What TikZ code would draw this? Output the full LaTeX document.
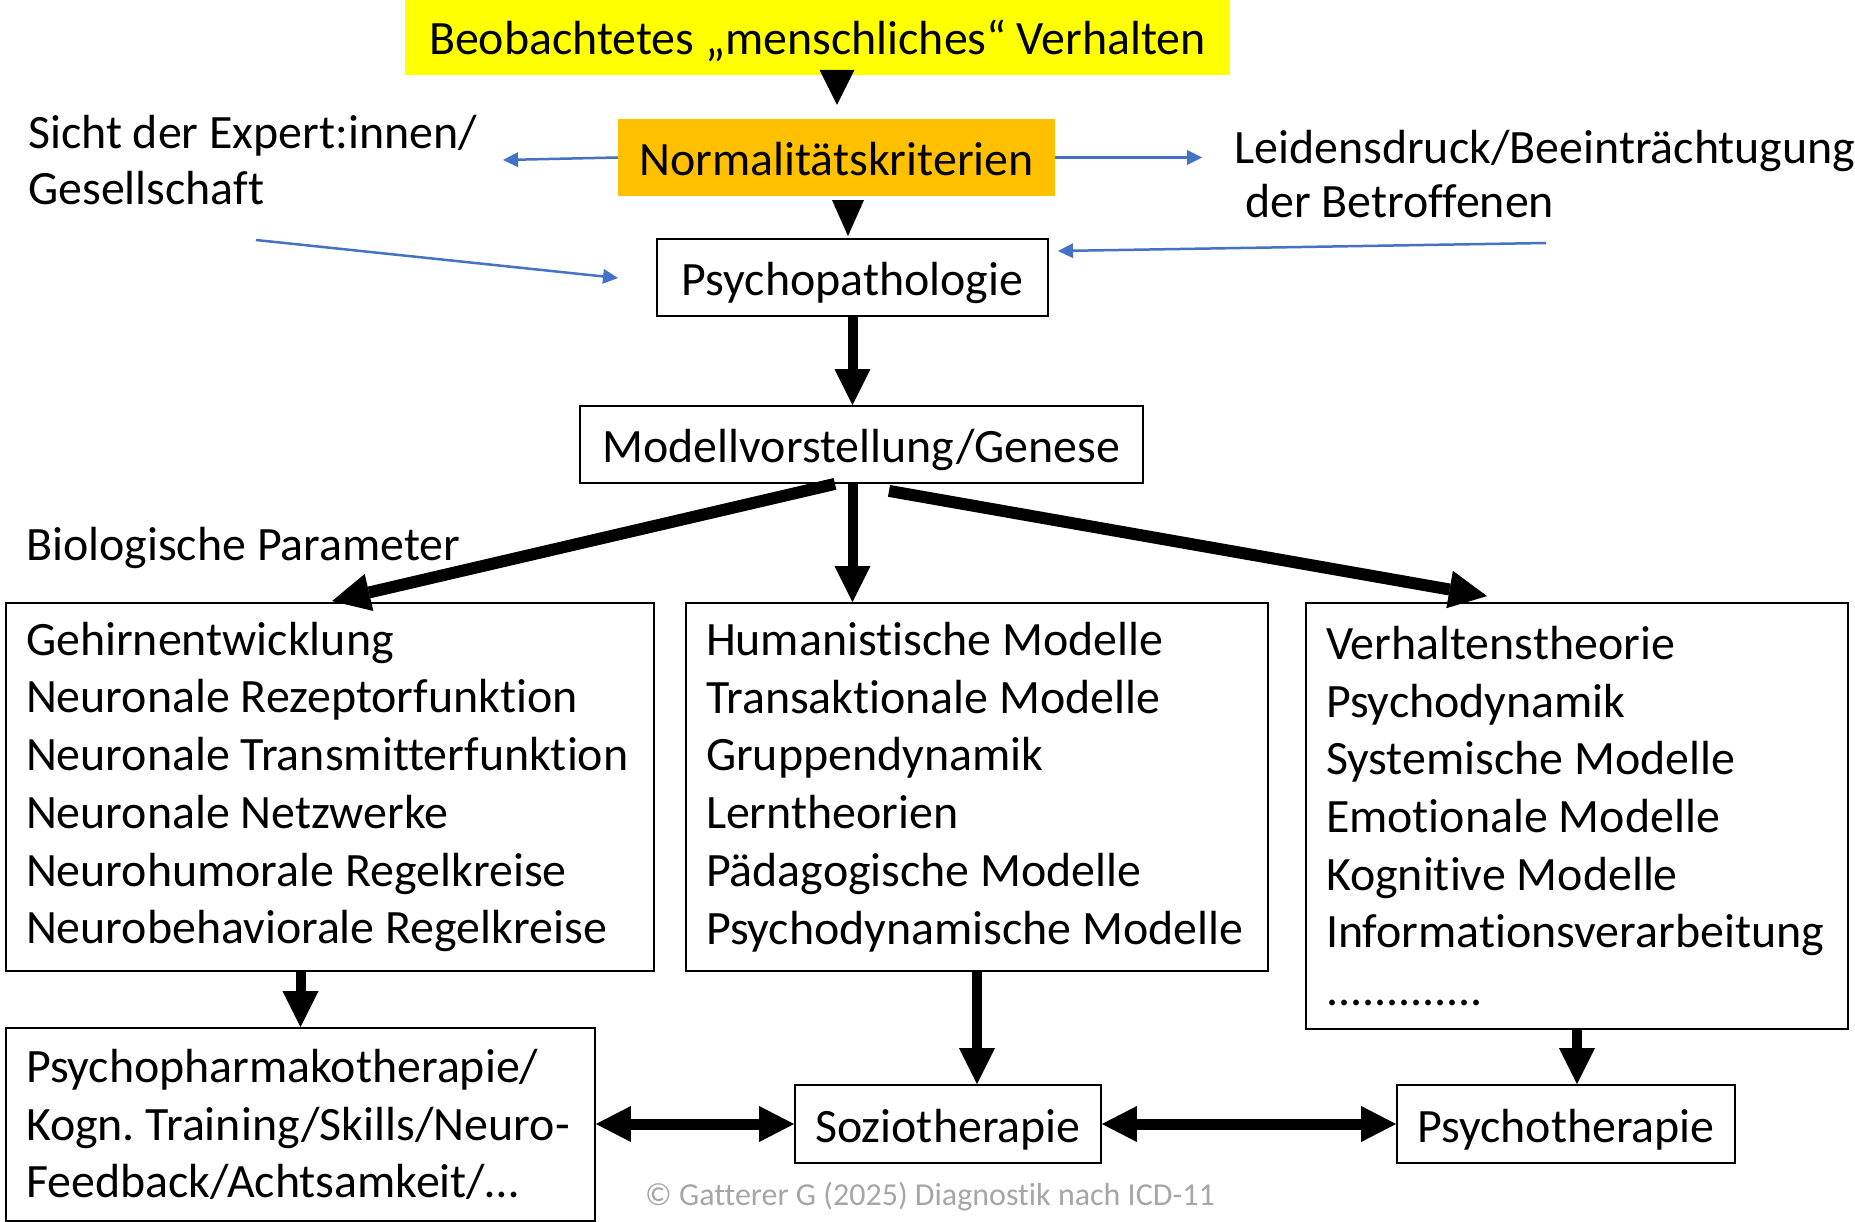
\documentclass[tikz,border=0pt]{standalone}
\usepackage{fontspec}
\setmainfont{Carlito}[Ligatures=NoCommon]
\usetikzlibrary{arrows.meta,calc}
\definecolor{ylw}{RGB}{255,255,0}
\definecolor{org}{RGB}{255,192,0}
\definecolor{blu}{RGB}{68,114,196}
\definecolor{cpr}{RGB}{166,166,166}
\begin{document}
\frenchspacing
\begin{tikzpicture}[x=1pt,y=-1pt,
  every node/.style={font=\fontsize{47.9}{57.7}\selectfont, inner sep=0pt},
  oneline/.style={text height=45pt, text depth=9pt},
  sbox/.style 2 args={draw, line width=1.8pt, oneline, minimum width=#1, minimum height=#2},
  lbox/.style 2 args={draw, line width=1.8pt, align=flush left, text width=#1, inner xsep=20pt, inner ysep=0pt, minimum height=#2},
  harrow/.style={line width=10pt, -{Triangle[length=36pt,width=36pt,line width=0pt]}},
  tri/.style 2 args={line width=0.5pt, -{Triangle[length=#1,width=#2,line width=0pt]}},
  diag/.style={line width=12pt, -{Triangle[length=38pt,width=38pt,line width=0pt]}},
  dbl/.style={line width=11pt, {Triangle[length=35pt,width=36pt,line width=0pt]}-{Triangle[length=35pt,width=36pt,line width=0pt]}},
  bluearr/.style={blu, line width=2.5pt, -{Triangle[length=15pt,width=15pt,line width=0pt]}}
]
\useasboundingbox (0,0) rectangle (1855,1222);

% main nodes
\node[fill=ylw, text height=43pt, text depth=9pt, minimum width=825pt, minimum height=75pt] (yellow) at (817.5,37.5) {Beobachtetes „menschliches“ Verhalten};
\node[fill=org, oneline, minimum width=437pt, minimum height=77pt] (orange) at (836.5,157.5) {Normalitätskriterien};
\node[sbox={391pt}{77pt}] (psych) at (852.5,277.5) {Psychopathologie};
\node[sbox={563pt}{77pt}] (modell) at (861.5,444.5) {Modellvorstellung/Genese};

\node[lbox={608pt}{368pt}] (bio) at (330,787) {Gehirnentwicklung\\Neuronale Rezeptorfunktion\\Neuronale Transmitterfunktion\\Neuronale Netzwerke\\Neurohumorale Regelkreise\\Neurobehaviorale Regelkreise};
\node[lbox={542pt}{368pt}] (hum) at (977,787) {Humanistische Modelle\\Transaktionale Modelle\\Gruppendynamik\\Lerntheorien\\Pädagogische Modelle\\Psychodynamische Modelle};
\node[lbox={502pt}{426pt}] (ver) at (1577,816) {Verhaltenstheorie\\Psychodynamik\\Systemische Modelle\\Emotionale Modelle\\Kognitive Modelle\\Informationsverarbeitung\\.............};

\node[lbox={549pt}{193pt}] (pharm) at (300.5,1124.5) {Psychopharmakotherapie/\\Kogn. Training/Skills/Neuro-\\Feedback/Achtsamkeit/…};
\node[sbox={306pt}{78pt}] (sozio) at (948,1124) {Soziotherapie};
\node[sbox={338pt}{78pt}] (psychoth) at (1566,1124) {Psychotherapie};

% free labels
\node[anchor=west, align=flush left] (sicht) at (28,160) {Sicht der Expert:innen/\\[-1pt]Gesellschaft};
\node[anchor=west, align=flush left] (leid) at (1234,174) {Leidensdruck/Beeinträchtugung\\[-3pt]~der Betroffenen};
\node[anchor=base west] (biop) at (26,560) {Biologische Parameter};
\node[anchor=base west, font=\fontsize{32}{38}\selectfont, text=cpr] (copy) at (645,1205) {© Gatterer G (2025) Diagnostik nach ICD-11};

% black arrows
\draw[tri={35pt}{35pt}] ($(yellow.south)+(19.5,-5)$) -- ($(orange.north)+(0.5,-14)$);
\draw[tri={36pt}{32pt}] ($(orange.south)+(11.5,5)$) -- ($(psych.north)+(-4.5,-2)$);
\draw[harrow] (psych.south) -- (psych.south |- modell.north);
\draw[harrow] (psych.south |- modell.south) -- (psych.south |- hum.north);
\draw[diag] ($(modell.south)+(-26.5,0)$) -- ($(bio.north)+(2,-1)$);
\draw[diag] ($(modell.south)+(27.5,7)$) -- ($(ver.north)+(-90,-6)$);
\draw[harrow] (pharm.north |- bio.south) -- (pharm.north);
\draw[harrow] (hum.south) -- (hum.south |- sozio.north);
\draw[harrow] (ver.south) -- (ver.south |- psychoth.north);
\draw[dbl] (sozio.west -| pharm.east) -- (sozio.west);
\draw[dbl] (sozio.east) -- (psychoth.west);

% blue arrows
\coordinate (b1) at (503,160);
\coordinate (b2) at (1202,157.5);
\coordinate (b3s) at (256,240);
\coordinate (b3e) at (618,278);
\coordinate (b4s) at (1546,243);
\coordinate (b4e) at (1058,251);
\draw[bluearr] (orange.west) -- (b1);
\draw[bluearr] (orange.east) -- (b2);
\draw[bluearr] (b3s) -- (b3e);
\draw[bluearr] (b4s) -- (b4e);
\end{tikzpicture}
\end{document}
